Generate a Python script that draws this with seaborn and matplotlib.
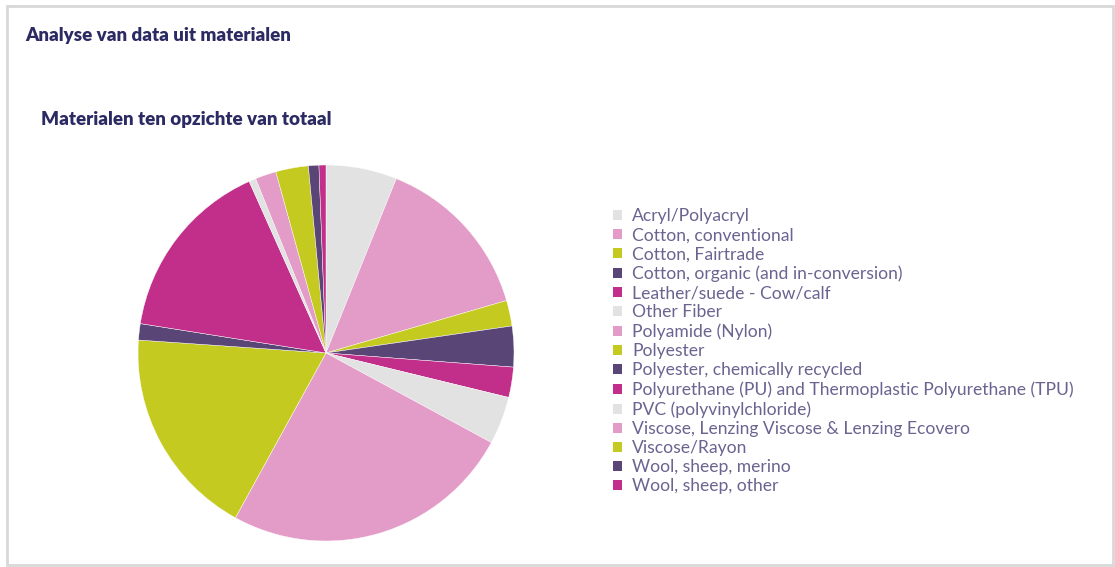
import matplotlib.pyplot as plt
import seaborn as sns
from matplotlib.patches import Rectangle

materials = [
    'Acryl/Polyacryl',
    'Cotton, conventional',
    'Cotton, Fairtrade',
    'Cotton, organic (and in-conversion)',
    'Leather/suede - Cow/calf',
    'Other Fiber',
    'Polyamide (Nylon)',
    'Polyester',
    'Polyester, chemically recycled',
    'Polyurethane (PU) and Thermoplastic Polyurethane (TPU)',
    'PVC (polyvinylchloride)',
    'Viscose, Lenzing Viscose & Lenzing Ecovero',
    'Viscose/Rayon',
    'Wool, sheep, merino',
    'Wool, sheep, other',
]
shares = [6.1, 14.4, 2.2, 3.5, 2.6, 4.1, 25.1, 18.1, 1.4, 15.8, 0.6, 1.8, 2.8, 0.9, 0.6]

base_colors = ['#e2e2e2', '#e29cc7', '#c4ca1f', '#5a4577', '#c22f8a']

sns.set_theme(style='white')
plt.rcParams['font.family'] = ['Lato', 'DejaVu Sans']

palette = sns.color_palette(base_colors, len(base_colors))
colors = [palette[i % len(palette)] for i in range(len(materials))]

fig = plt.figure(figsize=(11.15, 5.67), dpi=100)
fig.patch.set_facecolor('white')

# card frame, kept behind the pie
fig.patches.append(Rectangle((7 / 1115, 2 / 567), 1106 / 1115, 559 / 567,
                             transform=fig.transFigure, facecolor='none',
                             edgecolor='#d8d8d8', linewidth=2.0, zorder=-5))

fig.text(25 / 1115, 1 - 35 / 567, 'Analyse van data uit materialen',
         fontsize=13.5, fontweight='heavy', color='#2b2a63', va='center')
fig.text(41 / 1115, 1 - 120 / 567, 'Materialen ten opzichte van totaal',
         fontsize=13.5, fontweight='heavy', color='#2b2a63', va='center')

r = 188
ax = fig.add_axes([(326 - r) / 1115, (567 - 353 - r) / 567, 2 * r / 1115, 2 * r / 567])
wedges, _ = ax.pie(shares, colors=colors, startangle=90, counterclock=False,
                   wedgeprops=dict(linewidth=0.3, edgecolor='white'), radius=1)
ax.set_xlim(-1, 1)
ax.set_ylim(-1, 1)
ax.set_aspect('equal')
ax.axis('off')

leg = fig.legend(wedges, materials, loc='upper left',
                 bbox_to_anchor=(613 / 1115, 1 - 208 / 567),
                 frameon=False, fontsize=12.6, handlelength=0.5, handleheight=0.5,
                 handletextpad=0.6, labelspacing=0.18, borderaxespad=0, borderpad=0)
for t in leg.get_texts():
    t.set_color('#6b6390')
for h in leg.legend_handles:
    h.set_edgecolor('none')

fig.savefig('out.png', dpi=100)
